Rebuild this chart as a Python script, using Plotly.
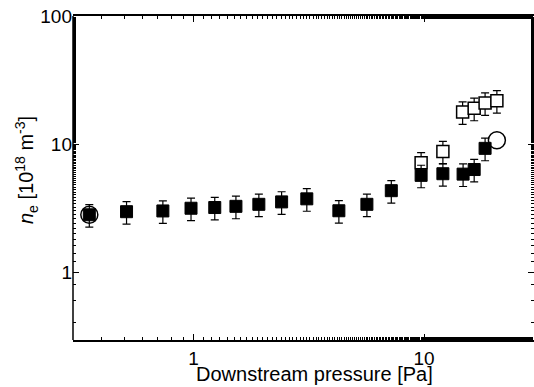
import plotly.graph_objects as go

# Filled squares
p_filled = [0.353, 0.512, 0.736, 0.975, 1.236, 1.527, 1.92, 2.41, 3.10, 4.27,
            5.65, 7.21, 9.71, 12.07, 14.77, 16.5, 18.4]
ne_filled = [2.80, 2.96, 3.00, 3.15, 3.19, 3.26, 3.38, 3.53, 3.73, 3.01,
             3.38, 4.32, 5.69, 5.86, 5.82, 6.32, 9.25]
# Open squares
p_open = [9.71, 12.07, 14.7, 16.5, 18.4, 20.7]
ne_open = [7.13, 8.75, 17.8, 19.0, 20.9, 21.8]
# Open circles
p_circle = [0.353, 20.7]
ne_circle = [2.80, 10.7]

err_pct = 20

x_ticks = [1, 10]
x_ticklabels = ["1", "10"]
y_ticks = [1, 10, 100]
y_ticklabels = ["1", "10", "100"]

FONT = "Liberation Sans"

fig = go.Figure()
eb = dict(type="percent", value=err_pct, color="black", thickness=1.2, width=4)

fig.add_trace(go.Scatter(
    x=p_open, y=ne_open, mode="markers",
    marker=dict(symbol="square", size=12, color="white",
                line=dict(color="black", width=1.5)),
    error_y=eb, showlegend=False))
fig.add_trace(go.Scatter(
    x=p_filled, y=ne_filled, mode="markers",
    marker=dict(symbol="square", size=12, color="black",
                line=dict(color="black", width=1)),
    error_y=eb, showlegend=False))
fig.add_trace(go.Scatter(
    x=p_circle, y=ne_circle, mode="markers",
    marker=dict(symbol="circle-open", size=17, color="black",
                line=dict(color="black", width=1.5)),
    showlegend=False))

axis_common = dict(
    linecolor="black", linewidth=1.5, mirror="ticks",
    ticks="inside", ticklen=6, tickwidth=1.2, tickcolor="black",
    showgrid=False, zeroline=False,
    tickfont=dict(family=FONT, size=19, color="black"),
    minor=dict(ticks="inside", ticklen=3, tickwidth=1, tickcolor="black",
               showgrid=False),
)

fig.update_xaxes(type="log", range=[-0.523, 1.477], showline=True,
                 tickvals=x_ticks, ticktext=x_ticklabels, **axis_common)
fig.update_yaxes(type="log", range=[-0.531, 2.0], showline=False,
                 tickvals=y_ticks, ticktext=y_ticklabels, **axis_common)

# left frame line (right side of the frame is outside the picture)
fig.add_shape(type="line", xref="paper", yref="paper", x0=0, x1=0, y0=0, y1=1,
              line=dict(color="black", width=1.5), layer="above")

fig.add_annotation(text="Downstream pressure [Pa]", xref="paper", yref="paper",
                   x=(314.5 - 73) / (534 - 73), y=(340 - 374) / 324,
                   xanchor="center", yanchor="middle", showarrow=False,
                   font=dict(family=FONT, size=20, color="black"))
fig.add_annotation(text="<i>n</i><sub>e</sub> [10<sup>18</sup> m<sup>-3</sup>]",
                   xref="paper", yref="paper",
                   x=(26 - 73) / 461, y=(340 - 170) / 324, xanchor="center",
                   yanchor="middle", textangle=-90, showarrow=False,
                   font=dict(family=FONT, size=20, color="black"))

fig.update_layout(
    width=534, height=387,
    margin=dict(l=73, r=0, t=16, b=47),
    plot_bgcolor="white", paper_bgcolor="white",
    font=dict(family=FONT, size=19, color="black"),
)

fig.write_html("out.html",
               config={"displayModeBar": False},
               post_script="document.body.style.margin='0';"
                           "document.body.style.overflow='hidden';")
